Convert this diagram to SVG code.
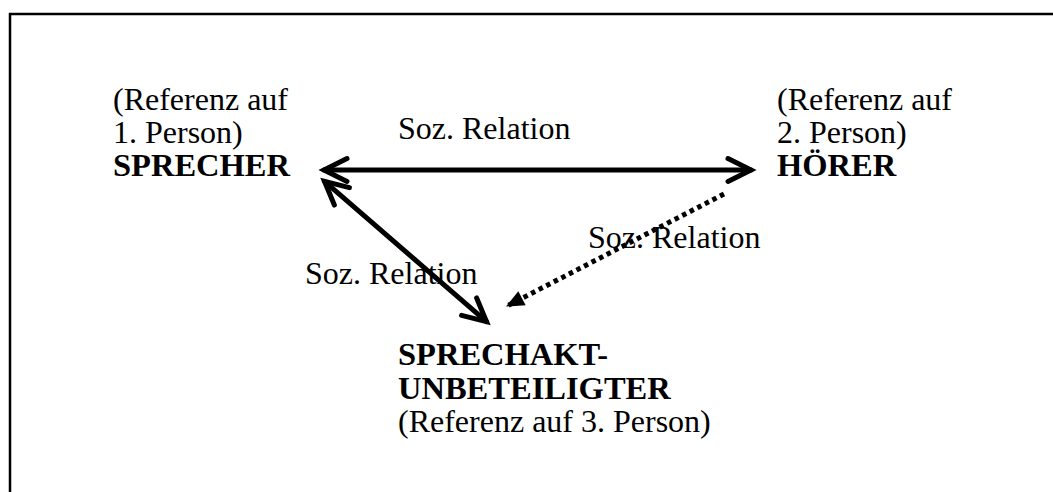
<svg xmlns="http://www.w3.org/2000/svg" width="1053" height="492" viewBox="0 0 1053 492">
  <defs>
    <style>
      text { font-family: "Liberation Serif", "Times New Roman", serif; font-size: 32px; fill: #000; }
      .b { font-weight: bold; font-size: 32.5px; }
      .solid { stroke: #000; stroke-width: 5; fill: none; stroke-linecap: round; }
      .dot { stroke: #000; stroke-width: 5; fill: none; stroke-dasharray: 4.5 4; }
    </style>
    <marker id="chev" markerUnits="userSpaceOnUse" orient="auto-start-reverse" refX="0" refY="0" markerWidth="60" markerHeight="60" viewBox="-30 -30 60 60" overflow="visible">
      <path d="M-23,-11.5 L0,0 L-23,11.5" fill="none" stroke="#000" stroke-width="5" stroke-linecap="round" stroke-linejoin="miter"/>
    </marker>
    <marker id="tri" markerUnits="userSpaceOnUse" orient="auto" refX="0" refY="0" markerWidth="40" markerHeight="40" viewBox="-20 -20 40 40" overflow="visible">
      <path d="M0,0 L-18,-8 L-18,8 Z" fill="#000"/>
    </marker>
  </defs>
  <rect x="10" y="14" width="1100" height="600" fill="#fff" stroke="#000" stroke-width="2.5"/>
  <g id="connectors">
    <line class="solid" x1="324" y1="170" x2="751" y2="170" marker-start="url(#chev)" marker-end="url(#chev)"/>
    <line class="solid" x1="324.5" y1="181.3" x2="486.5" y2="321.7" marker-start="url(#chev)" marker-end="url(#chev)"/>
    <line class="dot" x1="724" y1="194" x2="506" y2="306.5" marker-end="url(#tri)"/>
  </g>
  <g id="label-top"><text x="398" y="139">Soz. Relation</text></g>
  <g id="label-right"><text x="588" y="248">Soz. Relation</text></g>
  <g id="label-left"><text x="305" y="284">Soz. Relation</text></g>
  <g id="sprecher">
    <text x="113" y="110">(Referenz auf</text>
    <text x="113" y="143">1. Person)</text>
    <text x="113" y="176" class="b">SPRECHER</text>
  </g>
  <g id="hoerer">
    <text x="777" y="110">(Referenz auf</text>
    <text x="777" y="143">2. Person)</text>
    <text x="777" y="176" class="b">HÖRER</text>
  </g>
  <g id="unbeteiligter">
    <text x="398" y="365" class="b">SPRECHAKT-</text>
    <text x="398" y="399" class="b">UNBETEILIGTER</text>
    <text x="398" y="432">(Referenz auf 3. Person)</text>
  </g>
</svg>
